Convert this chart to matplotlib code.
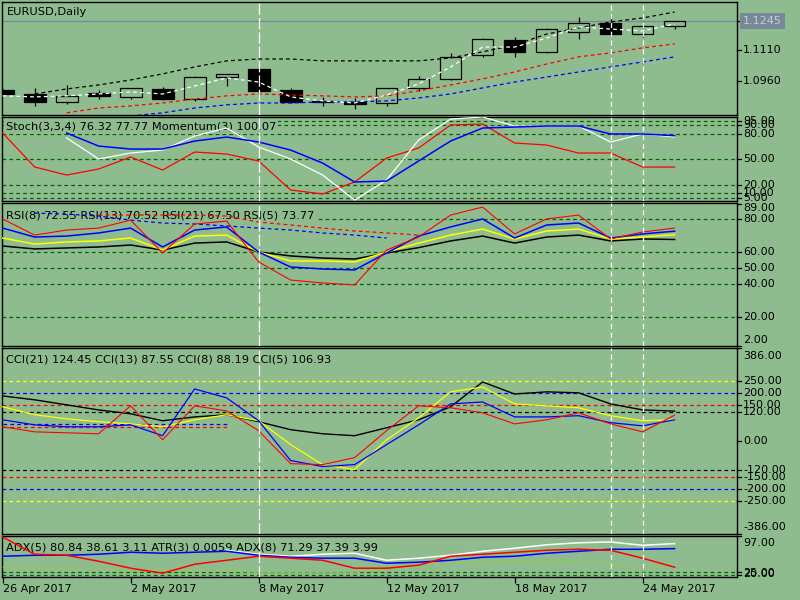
import numpy as np
import matplotlib
matplotlib.use('Agg')
import matplotlib.pyplot as plt
from matplotlib import transforms

nan = np.nan

# --- data ---
dates = ['26 Apr', '27 Apr', '28 Apr', '1 May', '2 May', '3 May', '4 May', '5 May',
         '8 May', '9 May', '10 May', '11 May', '12 May', '15 May', '16 May', '17 May',
         '18 May', '19 May', '22 May', '23 May', '24 May', '25 May']
date_ticks = [0, 4, 8, 12, 16, 20]
date_labels = ['26 Apr 2017', '2 May 2017', '8 May 2017', '12 May 2017', '18 May 2017', '24 May 2017']

opens = [1.0917, 1.0897, 1.0862, 1.0903, 1.0885, 1.0921, 1.0876, 1.0978, 1.1018, 1.0917, 1.0865,
         1.0860, 1.0854, 1.0925, 1.0968, 1.1083, 1.1156, 1.1100, 1.1195, 1.1235, 1.1183, 1.1221]
highs = [1.0922, 1.0925, 1.0941, 1.0917, 1.0927, 1.0930, 1.0983, 1.0994, 1.1020, 1.0927, 1.0885,
         1.0881, 1.0927, 1.0984, 1.1092, 1.1163, 1.1170, 1.1213, 1.1264, 1.1272, 1.1223, 1.1246]
lows = [1.0893, 1.0841, 1.0849, 1.0873, 1.0876, 1.0870, 1.0863, 1.0938, 1.0904, 1.0854, 1.0841,
        1.0828, 1.0842, 1.0914, 1.0967, 1.1076, 1.1073, 1.1092, 1.1159, 1.1180, 1.1172, 1.1210]
closes = [1.0897, 1.0862, 1.0889, 1.0890, 1.0925, 1.0876, 1.0978, 1.0992, 1.0914, 1.0862, 1.0859,
          1.0849, 1.0925, 1.0970, 1.1076, 1.1159, 1.1100, 1.1208, 1.1235, 1.1183, 1.1221, 1.1245]
bid = 1.1245

ma_white = [1.0889, 1.0884, 1.0889, 1.0898, 1.0908, 1.0898, 1.0936, 1.0975, 1.0955, 1.0884, 1.0865,
            1.0855, 1.0893, 1.0946, 1.1027, 1.1122, 1.1122, 1.1165, 1.1218, 1.1208, 1.1199, 1.1232]
ma_black = [nan, 1.0898, 1.0922, 1.0941, 1.0965, 1.0994, 1.1027, 1.1056, 1.1065, 1.1065, 1.1056,
            1.1056, 1.1056, 1.1056, 1.1070, 1.1099, 1.1132, 1.1184, 1.1213, 1.1242, 1.1261, 1.1289]
ma_red = [nan, nan, 1.0808, 1.0831, 1.0841, 1.0855, 1.0874, 1.0889, 1.0898, 1.0893, 1.0889,
          1.0884, 1.0889, 1.0913, 1.0941, 1.0970, 1.1003, 1.1041, 1.1075, 1.1094, 1.1118, 1.1137]
ma_blue = [nan, nan, nan, nan, 1.0793, 1.0808, 1.0831, 1.0846, 1.0855, 1.0855, 1.0860,
           1.0860, 1.0865, 1.0879, 1.0898, 1.0927, 1.0955, 1.0979, 1.1003, 1.1027, 1.1051, 1.1075]

stoch_main = [nan, nan, 75.1, 50.4, 57.4, 60.9, 77.4, 86.8, 64.5, 50.4, 31.5,
              2.1, 25.6, 72.7, 97.4, 99.8, 89.2, 89.2, 89.2, 70.4, 79.8, 76.3]
stoch_signal = [nan, nan, 80.9, 65.6, 62.1, 62.1, 71.5, 76.2, 70.4, 60.9, 45.6,
                23.3, 24.4, 48.0, 71.5, 86.8, 88.0, 89.2, 89.2, 79.8, 79.8, 77.8]
momentum = [81.0, 41.0, 31.5, 38.6, 52.7, 37.4, 58.6, 56.2, 48.0, 13.9, 9.2,
            23.3, 51.5, 63.3, 90.4, 91.5, 69.2, 66.8, 57.4, 57.4, 40.9, 40.9]
stoch_levels = [95, 90, 80, 50, 20, 10, 5]

rsi5 = [80.1, 70.2, 73.3, 74.5, 79.4, 59.2, 77.0, 78.8, 53.7, 42.6, 40.8,
        39.6, 61.0, 69.0, 82.5, 87.4, 70.9, 80.1, 82.5, 67.8, 72.1, 74.5]
rsi8 = [74.5, 69.0, 69.6, 71.5, 74.5, 62.9, 73.3, 75.2, 59.8, 50.6, 49.4,
        48.8, 59.2, 69.6, 75.2, 80.1, 68.4, 76.4, 77.6, 68.4, 70.9, 72.6]
rsi13 = [68.4, 64.7, 66.0, 66.6, 68.4, 61.0, 69.6, 70.2, 59.8, 54.3, 54.3,
         53.7, 59.8, 65.3, 70.2, 73.9, 67.8, 72.7, 73.9, 67.8, 69.0, 70.5]
rsi21 = [63.5, 61.7, 62.3, 62.9, 64.1, 61.0, 65.3, 66.0, 59.8, 57.4, 56.1,
         55.5, 59.2, 62.5, 66.6, 69.6, 65.3, 69.0, 70.2, 66.6, 67.8, 67.5]
rsi_red_dash = [nan, nan, nan, 82.5, 82.5, 82.5, 82.5, 81.9, 78.2, 76.4, 74.5,
                72.7, 71.5, 70.2] + [nan] * 8
rsi_blue_dash = [nan, 83.7, 83.1, 81.9, 79.4, 77.6, 77.0, 75.8, 74.5, 73.3, 71.5,
                 70.2, 68.4] + [nan] * 9
rsi_levels = [80, 60, 50, 40, 20]

cci21 = [187, 171, 150, 129, 113, 84, 100, 109, 80, 47, 30,
         22, 55, 88, 142, 245, 195, 204, 200, 154, 129, 124]
cci8 = [142, 109, 92, 80, 71, 59, 88, 109, 84, -15, -98,
        -119, 5, 96, 204, 224, 154, 146, 138, 105, 84, 88]
cci13 = [88, 67, 59, 59, 67, 22, 216, 179, 84, -81, -106,
         -98, -15, 67, 154, 162, 100, 100, 105, 76, 63, 88]
cci5 = [59, 38, 34, 30, 146, 5, 146, 125, 43, -94, -98,
        -69, 43, 146, 138, 117, 71, 88, 117, 71, 38, 107]
cci_blue_dash = [71.5] * 8 + [nan] * 14
cci_red_dash = [58] * 8 + [nan] * 14
cci_levels = [(250, '#ffff00'), (-250, '#ffff00'), (200, '#0000ff'), (-200, '#0000ff'),
              (150, '#ff0000'), (-150, '#ff0000'), (120, 'black'), (-120, 'black')]

adx_red = [95, 60.7, 58.7, 46.8, 32.9, 23.0, 40.8, 48.7, 56.7, 52.8, 48.7,
           32.9, 32.9, 38.9, 56.7, 60.7, 64.7, 68.6, 70.6, 68.6, 52.8, 34.9]
adx_blue = [56.7, 58.7, 58.7, 60.7, 64.7, 62.7, 64.7, 66.6, 58.7, 54.7, 52.8,
            52.8, 42.8, 44.8, 48.7, 54.7, 56.7, 62.7, 66.6, 70.6, 70.6, 71.9]
adx_white = [nan] * 7 + [68.6, 60.7, 56.7, 60.7, 62.7, 48.7, 52.8, 58.7, 66.6,
                         72.6, 79.5, 83.5, 85.1, 78.5, 81.9]
atr_line = [34.9, 32.9, 30.9, 29.9, 29.9, 28.9, 27.6, 27.0, 25, 25, 25,
            25, 30.9, 36.9, 42.8, 46.8, 47.7, 46.8, 45.4, 40.3, 33.9, 37.9]
adx_levels = [25, 20]

BG = '#8fbc8f'
LVL = '#006400'
FS = 8.0      # right scale labels / dates
FS_LBL = 8.2  # indicator captions
plt.rcParams['font.family'] = 'DejaVu Sans'

fig = plt.figure(figsize=(8, 6), dpi=100, facecolor=BG)
x = np.arange(len(dates))
W_PX = 735.0


def panel(top, bottom, ylim):
    ax = fig.add_axes([2 / 800, 1 - bottom / 600, W_PX / 800, (bottom - top) / 600])
    ax.set_facecolor(BG)
    ax.set_xlim(-0.02, 22.95)
    ax.set_ylim(*ylim)
    ax.set_xticks([])
    ax.set_yticks([])
    for s in ax.spines.values():
        s.set_color('black')
        s.set_linewidth(1)
    ax._px = (top, bottom)
    return ax


def rtick(ax, v, label, dy=0):
    tr = transforms.blended_transform_factory(ax.transAxes, ax.transData)
    ax.plot([1, 1 + 4 / W_PX], [v, v], transform=tr, color='black', lw=0.9, clip_on=False)
    ax.text(1 + 6 / W_PX, v, label, fontsize=FS, va='center', ha='left', clip_on=False,
            transform=transforms.offset_copy(tr, fig=fig, x=0, y=dy, units='dots'))


def label(ax, ypx, s, box=True):
    top, bottom = ax._px
    kw = dict(fc=BG, ec='none', pad=1.2) if box else None
    ax.text(4 / W_PX, (bottom - ypx) / (bottom - top), s, transform=ax.transAxes,
            fontsize=FS_LBL, va='center', ha='left', bbox=kw, zorder=2.5)


def levels(ax, vals, color=LVL):
    for v in vals:
        ax.axhline(v, color=color, lw=0.9, ls=(0, (3, 2.5)), zorder=1)


# --- main price panel ---
ax0 = panel(2, 114.5, (1.0800, 1.1337))
o = np.array(opens); c = np.array(closes)
ax0.vlines(x, lows, highs, color='black', lw=0.9, zorder=2)
up = c >= o
ax0.bar(x[up], (c - o)[up], bottom=o[up], width=0.68, color=BG, edgecolor='black', lw=0.9, zorder=3)
ax0.bar(x[~up], (o - c)[~up], bottom=c[~up], width=0.68, color='black', edgecolor='black', lw=0.9, zorder=3)
ax0.axhline(bid, color='#778899', lw=0.9, zorder=1)
for series, col in [(ma_black, 'black'), (ma_red, '#ff0000'), (ma_blue, '#0000ff'), (ma_white, 'white')]:
    ax0.plot(x, series, color=col, lw=0.9, ls=(0, (3, 2.5)), zorder=4)
ax0.text(5 / W_PX, 1 - 10 / 112.5, 'EURUSD,Daily', transform=ax0.transAxes, fontsize=FS_LBL,
         va='center', ha='left')
rtick(ax0, 1.1110, '1.1110')
rtick(ax0, 1.0960, '1.0960')
rtick(ax0, bid, '')
tr0 = transforms.blended_transform_factory(ax0.transAxes, ax0.transData)
ax0.text(1 + 6 / W_PX, bid, '1.1245', transform=tr0, fontsize=FS, va='center', ha='left',
         color='#c8ccd0', clip_on=False,
         bbox=dict(boxstyle='square,pad=0.25', fc='#778899', ec='none'))

# --- Stochastic / Momentum ---
ax1 = panel(117, 201, (0.94, 99.8))
levels(ax1, stoch_levels)
ax1.plot(x, momentum, color='#ff0000', lw=0.9, zorder=3)
ax1.plot(x, stoch_main, color='white', lw=0.9, zorder=3)
ax1.plot(x, stoch_signal, color='#0000ff', lw=1.1, zorder=3)
label(ax1, 127, 'Stoch(3,3,4) 76.32 77.77 Momentum(3) 100.07')
for v in stoch_levels:
    rtick(ax1, v, f'{v:.2f}')

# --- RSI ---
ax2 = panel(203, 346, (2.1, 89.9))
levels(ax2, rsi_levels)
ax2.plot(x, rsi_red_dash, color='#ff0000', lw=0.9, ls=(0, (3, 2.5)), zorder=3)
ax2.plot(x, rsi_blue_dash, color='#0000ff', lw=0.9, ls=(0, (3, 2.5)), zorder=3)
ax2.plot(x, rsi21, color='black', lw=1.1, zorder=3)
ax2.plot(x, rsi13, color='#ffff00', lw=1.1, zorder=3)
ax2.plot(x, rsi8, color='#0000ff', lw=1.1, zorder=3)
ax2.plot(x, rsi5, color='#ff0000', lw=0.8, zorder=3)
label(ax2, 215, 'RSI(8) 72.55 RSI(13) 70.52 RSI(21) 67.50 RSI(5) 73.77')
rtick(ax2, 89, '89.00', dy=-4)
for v in rsi_levels:
    rtick(ax2, v, f'{v:.2f}')
rtick(ax2, 2.1, '2.00', dy=6)

# --- CCI ---
ax3 = panel(348, 534, (-386, 386))
for v, col in cci_levels:
    ax3.axhline(v, color=col, lw=0.9, ls=(0, (3, 2.5)), zorder=1)
ax3.plot(x, cci_blue_dash, color='#0000ff', lw=0.9, ls=(0, (3, 2.5)), zorder=3)
ax3.plot(x, cci_red_dash, color='#ff0000', lw=0.9, ls=(0, (3, 2.5)), zorder=3)
ax3.plot(x, cci21, color='black', lw=1.0, zorder=3)
ax3.plot(x, cci8, color='#ffff00', lw=0.9, zorder=3)
ax3.plot(x, cci13, color='#0000ff', lw=0.9, zorder=3)
ax3.plot(x, cci5, color='#ff0000', lw=0.8, zorder=3)
label(ax3, 360, 'CCI(21) 124.45 CCI(13) 87.55 CCI(8) 88.19 CCI(5) 106.93')
rtick(ax3, 386, '386.00', dy=-8)
for v, _ in cci_levels:
    rtick(ax3, v, f'{v:.2f}')
rtick(ax3, 0, '0.00')
rtick(ax3, -386, '-386.00', dy=7)

# --- ADX / ATR ---
ax4 = panel(536, 576.7, (16, 97))
levels(ax4, adx_levels)
ax4.plot(x, atr_line, color='#9acd32', lw=0.9, ls=(0, (3, 2.5)), zorder=3)
ax4.plot(x, adx_white, color='white', lw=1.1, zorder=3)
ax4.plot(x, adx_blue, color='#0000ff', lw=1.1, zorder=3)
ax4.plot(x, adx_red, color='#ff0000', lw=1.1, zorder=3)
label(ax4, 547, 'ADX(5) 80.84 38.61 3.11 ATR(3) 0.0059 ADX(8) 71.29 37.39 3.99')
rtick(ax4, 97, '97.00', dy=-7)
rtick(ax4, 25, '25.00', dy=-1)
rtick(ax4, 20, '20.00', dy=1)

ax4.set_xticks(date_ticks)
ax4.set_xticklabels(date_labels, ha='left', fontsize=FS)
ax4.tick_params(axis='x', direction='out', length=4, width=0.9, pad=1)

# vertical separators across all panels
for ax in (ax0, ax1, ax2, ax3, ax4):
    ax.axvline(8, color='white', lw=0.9, ls=(0, (9, 2.5)), zorder=5)
    ax.axvline(19, color='white', lw=0.9, ls=(0, (4, 3)), zorder=5)
    ax.axvline(20, color='white', lw=0.9, ls=(0, (4, 3)), zorder=5)

fig.savefig('out.png', dpi=100, facecolor=BG)
